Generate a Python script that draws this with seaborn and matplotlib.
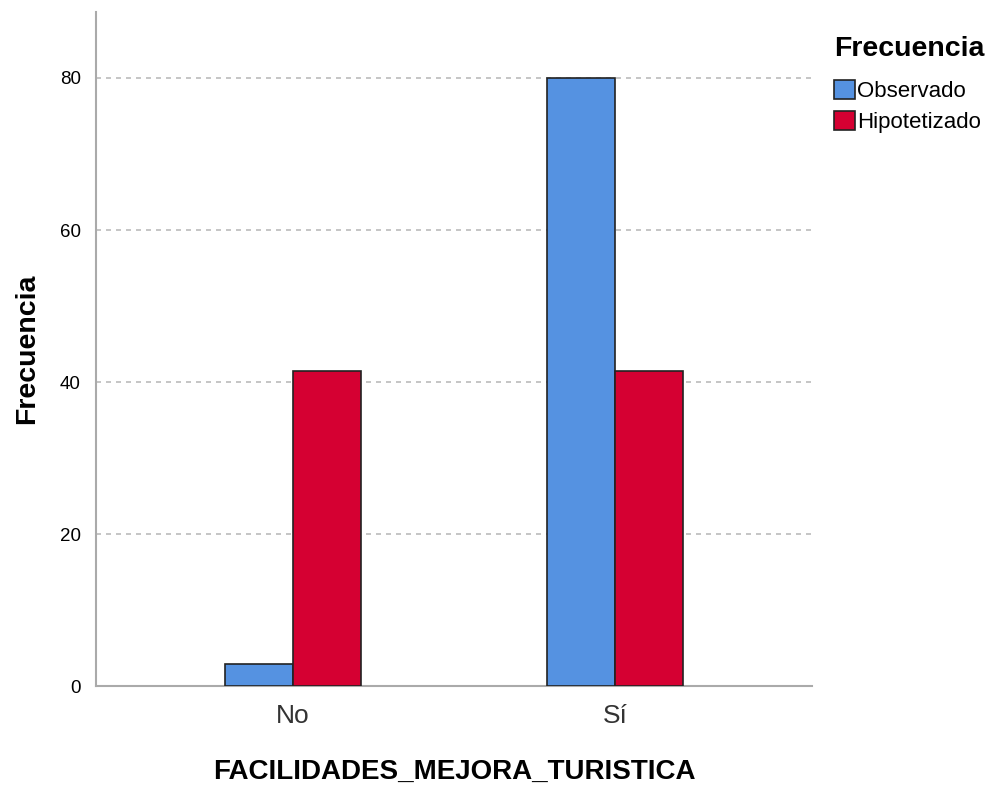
import pandas as pd
import matplotlib.pyplot as plt
import seaborn as sns

# Datos del grafico (frecuencias observadas e hipotetizadas)
categorias = ['No', 'Sí']
observado = [3, 80]
hipotetizado = [41.5, 41.5]
series = ['Observado', 'Hipotetizado']
colores = ['#5592E1', '#D50032']

df = pd.DataFrame({
    'Categoria': categorias * 2,
    'Frecuencia': observado + hipotetizado,
    'Serie': [series[0]] * 2 + [series[1]] * 2,
})

sns.set_style('white')
plt.rcParams['font.family'] = ['Liberation Sans', 'DejaVu Sans']
plt.rcParams['text.color'] = 'black'
plt.rcParams['axes.labelcolor'] = 'black'
plt.rcParams['xtick.color'] = 'black'
plt.rcParams['ytick.color'] = 'black'

fig = plt.figure(figsize=(9.93, 7.88), dpi=100)
ax = fig.add_axes([0.0967, 0.129, 0.7210, 0.856])

sns.barplot(
    data=df, x='Categoria', y='Frecuencia', hue='Serie',
    palette=colores, saturation=1, width=0.422, gap=0, edgecolor='#222222',
    linewidth=1.2, ax=ax, zorder=3)

ax.set_xlim(-0.612, 1.612)
ax.set_ylim(0, 88.7)
ax.set_yticks([0, 20, 40, 60, 80])
ax.grid(axis='y', linestyle=(0, (3, 3)), color='#bbbbbb', linewidth=1.2, zorder=0)
ax.set_axisbelow(True)

for s in ['top', 'right']:
    ax.spines[s].set_visible(False)
for s in ['left', 'bottom']:
    ax.spines[s].set_color('#aaaaaa')
    ax.spines[s].set_linewidth(1.5)

ax.tick_params(axis='y', labelsize=13.5, length=0, pad=11)
ax.tick_params(axis='x', labelsize=19, length=0, pad=13, labelcolor='#333333')

ax.set_xlabel('FACILIDADES_MEJORA_TURISTICA', fontsize=20, fontweight='bold', labelpad=22)
ax.set_ylabel('Frecuencia', fontsize=20.5, fontweight='bold', labelpad=14)

leg = ax.legend(title='Frecuencia', loc='upper left', bbox_to_anchor=(1.018, 0.978),
                frameon=False, fontsize=16, title_fontproperties={'weight': 'bold', 'size': 20.5},
                handlelength=0.95, handleheight=0.95, handletextpad=0.1, labelspacing=0.4,
                alignment='left', borderaxespad=0)
leg._legend_box.sep = 13

fig.savefig('out.png', dpi=100)
